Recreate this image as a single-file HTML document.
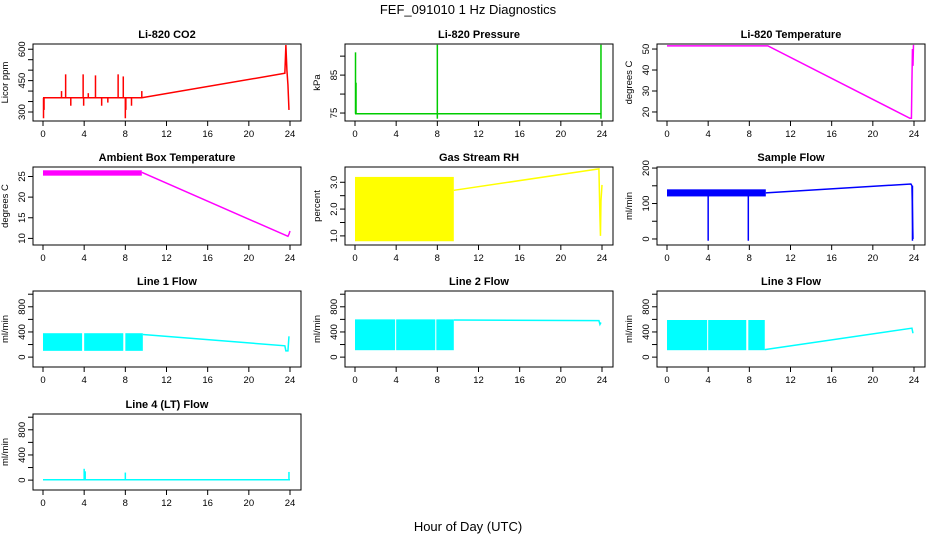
<!DOCTYPE html>
<html><head><meta charset="utf-8"><style>
html,body{margin:0;padding:0;background:#fff;}
svg{display:block;font-family:"Liberation Sans",sans-serif;}
</style></head><body>
<svg id="chart" width="936" height="540" viewBox="0 0 936 540" xmlns="http://www.w3.org/2000/svg">
<text x="468" y="14" font-size="13" text-anchor="middle">FEF_091010  1 Hz Diagnostics</text>
<text x="468" y="531" font-size="13" text-anchor="middle">Hour of Day (UTC)</text>
</svg>
<script>
// ---- data arrays ----
const xTicks = [0,4,8,12,16,20,24];
// CO2
const co2Line = [[0,368],[9.6,368],[23.5,485],[23.6,620],[23.7,500],[23.8,430],[23.9,310]];
const co2Spikes = [[0.05,368,270],[0.1,368,310],[1.8,368,400],[2.2,368,480],[2.7,368,330],[3.9,368,480],[3.95,368,330],[4.4,368,390],[5.1,368,475],[5.7,368,330],[6.3,368,345],[7.3,368,480],[7.8,368,470],[8.0,368,270],[8.05,368,310],[8.6,368,330],[9.6,368,400]];
// Pressure
const presLine = [[0,74.8],[23.9,74.8]];
const presSpikes = [[0.05,74.8,91],[0.1,74.8,83],[8.0,73.5,93],[23.9,73.5,93]];
// Li-820 temp
const tempLine = [[0,51.5],[9.8,51.5],[23.6,17],[23.75,17],[23.8,35],[23.85,50],[23.9,42],[23.95,52]];
// Ambient
const ambLine = [[9.6,26],[23.8,10.5],[23.9,11],[24,11.8]];
const ambBands = [[0,9.6,25.2,26.5]];
// RH
const rhLine = [[9.6,2.7],[23.7,3.5],[23.8,1.7],[23.85,1.0],[23.9,2.3],[24,2.9]];
const rhBands = [[0,9.6,0.8,3.2]];
// Sample flow
const sfLine = [[9.6,130],[23.7,155],[23.8,150],[23.9,0]];
const sfBands = [[0,9.6,120,140]];
const sfSpikes = [[4.0,130,-5],[7.9,130,-5],[23.85,150,-5]];
// Line flows
const l1Line = [[9.7,360],[23.5,180],[23.6,100],[23.8,100],[23.9,330]];
const l1Bands = [[0,3.8,100,380],[4.0,7.8,100,380],[8.0,9.7,100,380]];
const l2Line = [[9.6,590],[23.7,580],[23.8,520],[23.9,550]];
const l2Bands = [[0,3.9,110,600],[4.0,7.8,110,600],[7.9,9.6,110,600]];
const l3Line = [[9.5,120],[23.8,460],[23.9,380]];
const l3Bands = [[0,3.9,110,590],[4.0,7.7,110,590],[7.9,9.5,110,590]];
const l4Line = [[0,5],[24,5]];
const l4Spikes = [[4.0,5,180],[4.1,5,140],[8.0,5,120],[23.9,5,130]];

const panels = [
 {name:'co2',title:'Li-820 CO2',ylab:'Licor ppm',col:0,row:0,ymin:257,ymax:625,ticks:[300,350,400,450,500,550,600],labels:[300,450,600],color:'#ff0000',line:co2Line,spikes:co2Spikes},
 {name:'pressure',title:'Li-820 Pressure',ylab:'kPa',col:1,row:0,ymin:72.9,ymax:93.2,ticks:[75,80,85,90],labels:[75,85],color:'#00cc00',line:presLine,spikes:presSpikes},
 {name:'li820-temp',title:'Li-820 Temperature',ylab:'degrees C',col:2,row:0,ymin:15.7,ymax:52.4,ticks:[20,30,40,50],labels:[20,30,40,50],color:'#ff00ff',line:tempLine},
 {name:'ambient-temp',title:'Ambient Box Temperature',ylab:'degrees C',col:0,row:1,ymin:8.4,ymax:27.3,ticks:[10,15,20,25],labels:[10,15,20,25],color:'#ff00ff',line:ambLine,bands:ambBands},
 {name:'rh',title:'Gas Stream RH',ylab:'percent',col:1,row:1,ymin:0.66,ymax:3.57,ticks:[1,1.5,2,2.5,3],labels:['1.0','2.0','3.0'],color:'#ffff00',line:rhLine,bands:rhBands},
 {name:'sample-flow',title:'Sample Flow',ylab:'ml/min',col:2,row:1,ymin:-17,ymax:203,ticks:[0,50,100,150,200],labels:[0,100,200],color:'#0000ff',line:sfLine,bands:sfBands,spikes:sfSpikes},
 {name:'line1-flow',title:'Line 1 Flow',ylab:'ml/min',col:0,row:2,ymin:-157,ymax:1051,ticks:[0,200,400,600,800,1000],labels:[0,400,800],color:'#00ffff',line:l1Line,bands:l1Bands},
 {name:'line2-flow',title:'Line 2 Flow',ylab:'ml/min',col:1,row:2,ymin:-157,ymax:1051,ticks:[0,200,400,600,800,1000],labels:[0,400,800],color:'#00ffff',line:l2Line,bands:l2Bands},
 {name:'line3-flow',title:'Line 3 Flow',ylab:'ml/min',col:2,row:2,ymin:-157,ymax:1051,ticks:[0,200,400,600,800,1000],labels:[0,400,800],color:'#00ffff',line:l3Line,bands:l3Bands},
 {name:'line4-flow',title:'Line 4 (LT) Flow',ylab:'ml/min',col:0,row:3,ymin:-157,ymax:1051,ticks:[0,200,400,600,800,1000],labels:[0,400,800],color:'#00ffff',line:l4Line,spikes:l4Spikes}
];
const rowTop=[44,167,291,414], rowBot=[121,245,367,490];
const NS='http://www.w3.org/2000/svg';
const svg=document.getElementById('chart');
function mk(tag,attrs,parent){const e=document.createElementNS(NS,tag);for(const k in attrs)e.setAttribute(k,attrs[k]);(parent||svg).appendChild(e);return e;}
panels.forEach(p=>{
  const L=33+312*p.col, R=301+312*p.col, T=rowTop[p.row], B=rowBot[p.row];
  const sx=x=>L+10+(x)*(247/24);
  const sy=y=>B-(y-p.ymin)/(p.ymax-p.ymin)*(B-T);
  const g=mk('g',{});
  
  
  const t=mk('text',{x:(L+R)/2,y:T-6,'font-size':11,'font-weight':'bold','text-anchor':'middle'},g);t.textContent=p.title;
  
  
  const sg=mk('g',{stroke:p.color,fill:p.color,'stroke-width':1.5},g);
  
  
  (p.bands||[]).forEach(b=>{const r=mk('rect',{x:sx(b[0]),y:sy(b[3]),width:sx(b[1])-sx(b[0]),height:sy(b[2])-sy(b[3]),stroke:'none'},sg);
    
    });
  if(p.line){const pl=mk('polyline',{points:p.line.map(d=>sx(d[0])+','+sy(d[1])).join(' '),fill:'none'},sg);
    
    }
  (p.spikes||[]).forEach(s=>{const l=mk('line',{x1:sx(s[0]),x2:sx(s[0]),y1:sy(s[1]),y2:sy(s[2])},sg);
    
    });
  const bx=mk('rect',{x:L,y:T,width:R-L,height:B-T,fill:'none',stroke:'#000','stroke-width':1},g);
  
  
  xTicks.forEach(v=>{mk('line',{x1:sx(v),x2:sx(v),y1:B,y2:B+5,stroke:'#000'},g);
    const tx=mk('text',{x:sx(v),y:B+16,'font-size':9.5,'text-anchor':'middle'},g);tx.textContent=v;
    
    });
  p.ticks.forEach(v=>mk('line',{x1:L-5,x2:L,y1:sy(v),y2:sy(v),stroke:'#000'},g));
  p.labels.forEach(v=>{const yy=sy(parseFloat(v));const tx=mk('text',{x:L-8,y:yy,'font-size':9.5,'text-anchor':'middle',transform:`rotate(-90 ${L-8} ${yy})`},g);tx.textContent=v;
    
    });
  const yl=(T+B)/2;
  const ylt=mk('text',{x:L-25,y:yl,'font-size':9.5,'text-anchor':'middle',transform:`rotate(-90 ${L-25} ${yl})`},g);ylt.textContent=p.ylab;
  
  
});
</script>
</body></html>
